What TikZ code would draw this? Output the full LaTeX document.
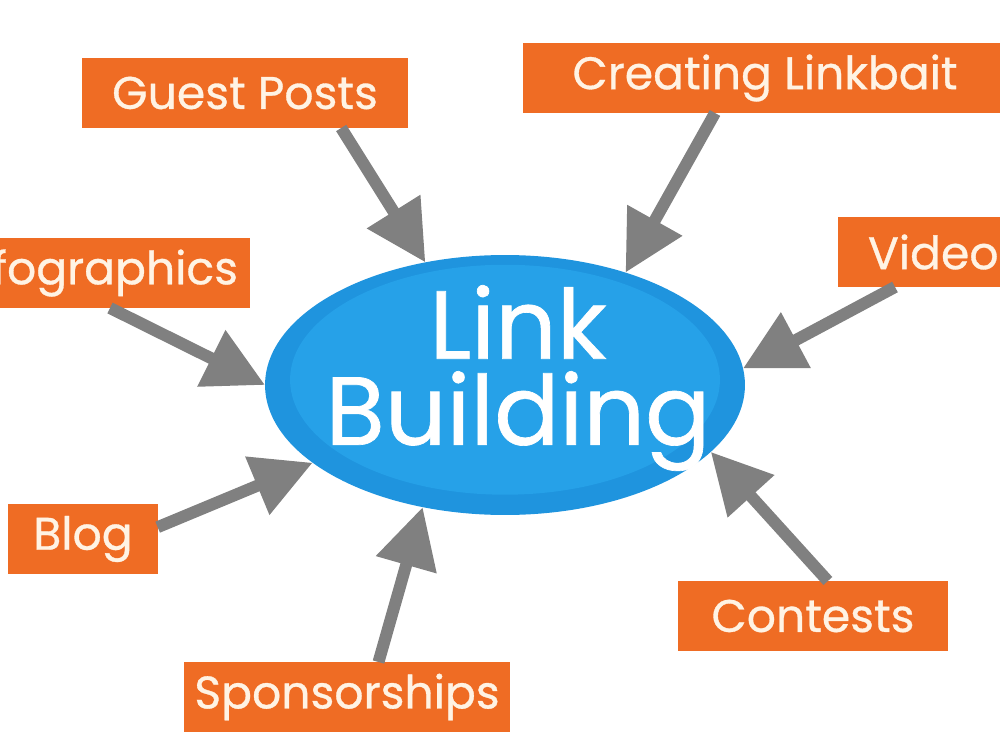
\documentclass[tikz,border=0pt]{standalone}
\usepackage{fontspec}
\setmainfont{Poppins}[FakeBold=0.7]
\usetikzlibrary{shapes.geometric,arrows.meta,calc}
\definecolor{tagorange}{RGB}{239,108,36}
\definecolor{tagtext}{RGB}{255,243,228}
\definecolor{hubedge}{RGB}{31,148,222}
\definecolor{hubfill}{RGB}{38,161,232}
\definecolor{arrowgray}{RGB}{128,128,128}

\begin{document}
\begin{tikzpicture}[x=0.02cm, y=-0.02cm,
    tag/.style={fill=tagorange, text=tagtext, font=\fontsize{26}{26}\selectfont,
      minimum height=1.4cm, inner xsep=0.5cm, outer sep=0pt},
    hub/.style={ellipse, fill=hubedge, outer sep=0pt, inner sep=0pt,
      minimum width=9.6cm, minimum height=5.2cm,
      path picture={\fill[hubfill] ([yshift=3pt]path picture bounding box.center)
        ellipse [x radius=4.3cm, y radius=2.3cm];}},
    hubtext/.style={text=white, align=center, inner sep=0pt,
      font=\fontsize{55}{49}\selectfont},
    pointer/.style={-{Triangle[length=1.2cm, width=1.2cm]}, line width=6.8pt, draw=arrowgray}]
  \useasboundingbox (0,0) rectangle (1000,750);
  \clip (0,0) rectangle (1000,750);

  \node[hub] (lb) at (505,385) {};
  \node[hubtext] (lbtext) at (518,378) {Link\\Building};

  \node[tag, minimum width=6.52cm] (gp) at (245,93) {Guest Posts};
  \node[tag, minimum width=9.68cm] (cl) at (765,78) {Creating Linkbait};
  \node[tag, anchor=east, inner xsep=0.24cm] (ig) at (250,273) {Infographics};
  \node[tag, anchor=west, inner xsep=0.6cm] (vd) at (838,252) {Videos};
  \node[tag, minimum width=2.94cm] (bl) at (83,539) {Blog};
  \node[tag, minimum width=5.4cm] (ct) at (813,616) {Contests};
  \node[tag, minimum width=6.5cm, inner xsep=0.2cm] (sp) at (347,697) {Sponsorships};

  % arrows into the hub
  \draw[pointer] (gp.-20) -- (lb.123.6);
  \draw[pointer] (cl.215) -- (lb.43.6);
  \draw[pointer] ($(ig.south east)+(-140,0)$) -- (lb.180);
  \draw[pointer] ($(vd.south west)+(57,0)$) -- (lb.4.3);
  \draw[pointer] (bl.9.2) -- (lb.202.1);
  \draw[pointer] (sp.48.5) -- (lb.236.4);
  \draw[pointer] (ct.67.4) -- (lb.-18.7);
\end{tikzpicture}
\end{document}
